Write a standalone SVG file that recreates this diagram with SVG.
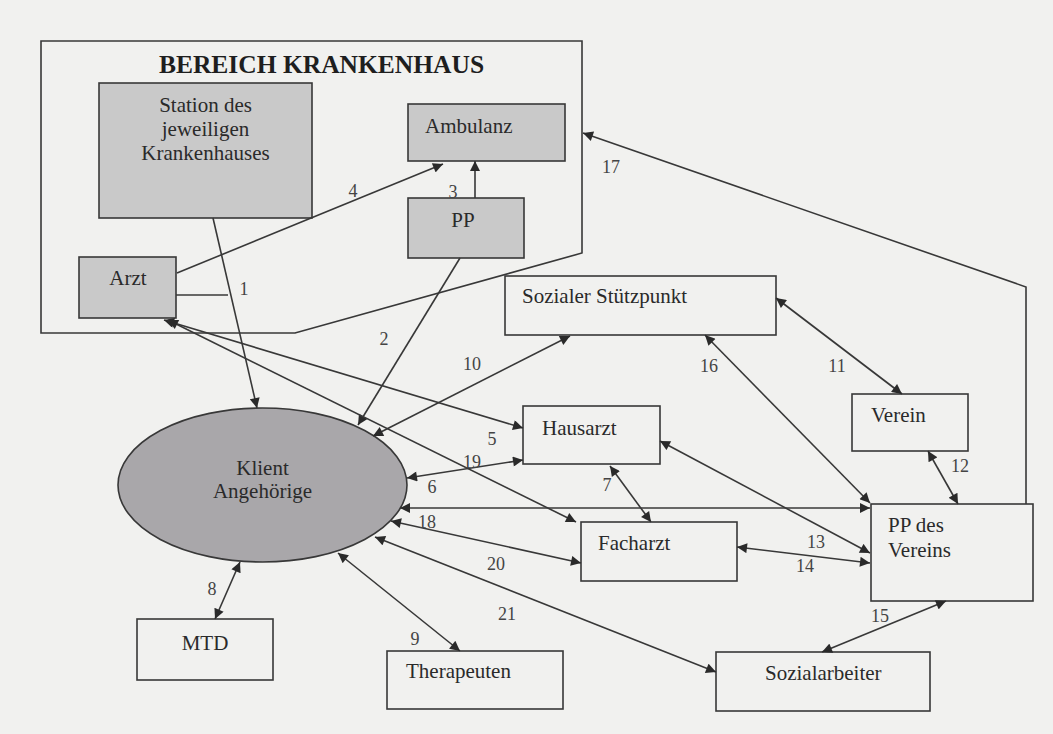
<svg xmlns="http://www.w3.org/2000/svg" width="1053" height="734" viewBox="0 0 1053 734">
<style>
.bg{fill:#f1f1ef}
.box{fill:none;stroke:#383838;stroke-width:1.6}
.sh{fill:#c9c9c9;stroke:#383838;stroke-width:1.6}
.ell{fill:#a9a7aa;stroke:#383838;stroke-width:1.6}
.t{font-family:"Liberation Serif","Times New Roman",serif;font-size:21px;fill:#2a2a2a}
.c{text-anchor:middle}
.title{font-family:"Liberation Serif","Times New Roman",serif;font-size:25.5px;font-weight:bold;fill:#1e1e1e;text-anchor:middle}
.lbl{font-family:"Liberation Serif","Times New Roman",serif;font-size:18px;fill:#444;text-anchor:middle}
.ln{fill:none;stroke:#383838;stroke-width:1.6}
.a2{marker-start:url(#ah);marker-end:url(#ah)}
.a1{marker-end:url(#ah)}
</style>
<defs>
<marker id="ah" viewBox="0 0 10 10" refX="10" refY="5" markerWidth="12" markerHeight="10" markerUnits="userSpaceOnUse" orient="auto-start-reverse">
<path d="M0,0 L10,5 L0,10 z" fill="#2a2a2a"/>
</marker>
</defs>
<rect class="bg" x="0" y="0" width="1053" height="734"/>

<g id="bereich-krankenhaus">
<path class="box" d="M41,41 H582 V253 L295,333 H41 Z"/>
<text class="title" x="321.5" y="73">BEREICH KRANKENHAUS</text>
</g>

<g id="station">
<rect class="sh" x="99" y="83" width="213" height="135"/>
<text class="t c" x="205.5" y="112">Station des</text>
<text class="t c" x="205.5" y="136">jeweiligen</text>
<text class="t c" x="205.5" y="160">Krankenhauses</text>
</g>

<g id="ambulanz">
<rect class="sh" x="408" y="104" width="157" height="57"/>
<text class="t" x="425" y="133">Ambulanz</text>
</g>

<g id="pp">
<rect class="sh" x="408" y="198" width="116" height="60"/>
<text class="t c" x="463" y="227">PP</text>
</g>

<g id="arzt">
<rect class="sh" x="79" y="257" width="97" height="61"/>
<text class="t c" x="128" y="285">Arzt</text>
</g>

<g id="sozialer-stuetzpunkt">
<rect class="box" x="505" y="276" width="271" height="59"/>
<text class="t" x="522" y="303">Sozialer Stützpunkt</text>
</g>

<g id="verein">
<rect class="box" x="852" y="394" width="116" height="57"/>
<text class="t" x="871" y="422">Verein</text>
</g>

<g id="hausarzt">
<rect class="box" x="523" y="406" width="137" height="58"/>
<text class="t" x="542" y="435">Hausarzt</text>
</g>

<g id="facharzt">
<rect class="box" x="581" y="522" width="156" height="59"/>
<text class="t" x="598" y="550">Facharzt</text>
</g>

<g id="pp-des-vereins">
<rect class="box" x="871" y="504" width="162" height="97"/>
<text class="t" x="888" y="532">PP des</text>
<text class="t" x="888" y="557">Vereins</text>
</g>

<g id="klient">
<ellipse class="ell" cx="262.5" cy="485" rx="144.5" ry="77"/>
<text class="t c" x="262.5" y="475">Klient</text>
<text class="t c" x="262.5" y="498">Angehörige</text>
</g>

<g id="mtd">
<rect class="box" x="137" y="619" width="136" height="61"/>
<text class="t c" x="205" y="650">MTD</text>
</g>

<g id="therapeuten">
<rect class="box" x="387" y="651" width="176" height="58"/>
<text class="t" x="406" y="678">Therapeuten</text>
</g>

<g id="sozialarbeiter">
<rect class="box" x="716" y="652" width="214" height="59"/>
<text class="t" x="765" y="680">Sozialarbeiter</text>
</g>

<g id="connectors">
<path class="ln" d="M176,295 L228,295"/>
<path class="ln a1" d="M213,218 L257,408"/>
<path class="ln a1" d="M460,258 L358,425"/>
<path class="ln a1" d="M475,198 L475,161"/>
<path class="ln a1" d="M177,273 L443,164"/>
<path class="ln a2" d="M164,320 L523,428"/>
<path class="ln a2" d="M407,478 L523,460"/>
<path class="ln a2" d="M610,466 L651,522"/>
<path class="ln a2" d="M240,562 L215,619"/>
<path class="ln a2" d="M338,553 L460,651"/>
<path class="ln a2" d="M373,436 L570,336"/>
<path class="ln a2" d="M776,298 L902,394"/>
<path class="ln a2" d="M928,451 L958,504"/>
<path class="ln a2" d="M660,441 L870,553"/>
<path class="ln a2" d="M737,547 L870,563"/>
<path class="ln a2" d="M946,601 L822,652"/>
<path class="ln a2" d="M705,335 L870,503"/>
<path class="ln a1" d="M1026,504 L1026,287 L583,133"/>
<path class="ln a2" d="M400,508 L870,508"/>
<path class="ln a2" d="M168,320 L576,522"/>
<path class="ln a2" d="M391,521 L581,563"/>
<path class="ln a2" d="M375,537 L716,672"/>
</g>

<g id="labels">
<text class="lbl" x="244" y="295">1</text>
<text class="lbl" x="384" y="345">2</text>
<text class="lbl" x="453" y="198">3</text>
<text class="lbl" x="353" y="197">4</text>
<text class="lbl" x="492" y="445">5</text>
<text class="lbl" x="432" y="493">6</text>
<text class="lbl" x="607" y="491">7</text>
<text class="lbl" x="212" y="595">8</text>
<text class="lbl" x="415" y="645">9</text>
<text class="lbl" x="472" y="370">10</text>
<text class="lbl" x="837" y="372">11</text>
<text class="lbl" x="960" y="472">12</text>
<text class="lbl" x="816" y="548">13</text>
<text class="lbl" x="805" y="572">14</text>
<text class="lbl" x="880" y="622">15</text>
<text class="lbl" x="709" y="372">16</text>
<text class="lbl" x="611" y="173">17</text>
<text class="lbl" x="427" y="528">18</text>
<text class="lbl" x="472" y="468">19</text>
<text class="lbl" x="496" y="570">20</text>
<text class="lbl" x="507" y="620">21</text>
</g>
</svg>
